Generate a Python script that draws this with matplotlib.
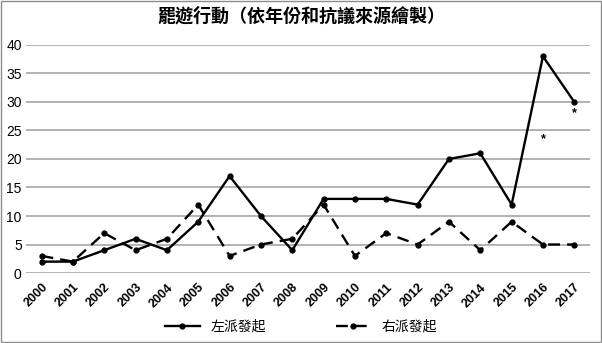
"""
Line chart: actions by year and source (left vs right).
"""

import matplotlib
matplotlib.use('Agg')
import matplotlib.pyplot as plt

# data
YEARS = [str(y) for y in range(2000, 2018)]
LEFT = [2, 2, 4, 6, 4, 9, 17, 10, 4, 13, 13, 13, 12, 20, 21, 12, 38, 30]
RIGHT = [3, 2, 7, 4, 6, 12, 3, 5, 6, 12, 3, 7, 5, 9, 4, 9, 5, 5]
STAR_YEARS = ['2016', '2017']
STAR_Y = [23.5, 28]
TITLE = '罷遊行動（依年份和抗議來源繪製）'
LABEL_LEFT = '左派發起'
LABEL_RIGHT = '右派發起'

plt.rcParams['font.family'] = ['Liberation Sans', 'Noto Sans CJK TC', 'DejaVu Sans']

fig = plt.figure(figsize=(6.02, 3.43), dpi=100)
ax = fig.add_axes([0.043, 0.204, 0.937, 0.665])

x = list(range(len(YEARS)))
ax.plot(x, LEFT, '-', color='black', lw=1.7, marker='o', ms=3.5, label=LABEL_LEFT)
ax.plot(x, RIGHT, '--', color='black', lw=1.7, marker='o', ms=3.5,
        dashes=(5, 3), label=LABEL_RIGHT)

for yr, v in zip(STAR_YEARS, STAR_Y):
    ax.text(YEARS.index(yr), v, '*', ha='center', va='center', fontsize=9,
            fontweight='bold')

ax.set_xlim(-0.5, len(YEARS) - 0.5)
ax.set_ylim(0, 40)
ax.set_yticks(range(0, 41, 5))
ax.set_xticks(x)
ax.set_xticklabels(YEARS, rotation=45, ha='right', rotation_mode='anchor',
                   fontsize=9, fontweight='bold')
for lbl in ax.get_yticklabels():
    lbl.set_fontsize(10)
ax.tick_params(axis='both', length=0, pad=3)
ax.tick_params(axis='x', pad=6)
ax.yaxis.grid(True, color='#a6a6a6', lw=1.2)
ax.set_axisbelow(True)
for s in ax.spines.values():
    s.set_visible(False)

fig.suptitle(TITLE, y=0.98, fontsize=13, fontweight='bold',
             family=['Noto Sans CJK TC', 'DejaVu Sans'])

leg = fig.legend(loc='lower center', ncol=2, frameon=False,
                 bbox_to_anchor=(0.5, -0.01), columnspacing=5, handlelength=2.5,
                 prop={'family': ['Noto Sans CJK TC', 'DejaVu Sans'], 'size': 10})

# thin border round the figure
fig.patches.append(plt.Rectangle((0.001, 0.002), 0.997, 0.995, transform=fig.transFigure,
                                 fill=False, edgecolor='#8c8c8c', lw=1))

fig.savefig('out.png', dpi=100)
